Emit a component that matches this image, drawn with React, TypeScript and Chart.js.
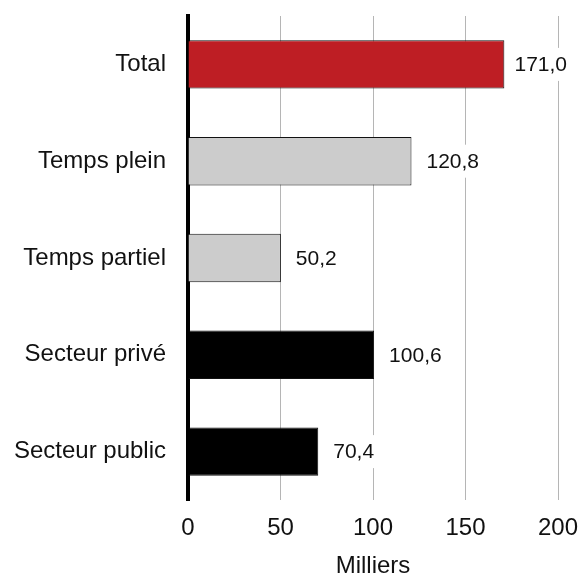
import React, { useEffect, useRef } from "react";
import { Chart, registerables } from "chart.js";

Chart.register(...registerables);

// Employment categories and their values (thousands)
const categories = ["Total", "Temps plein", "Temps partiel", "Secteur privé", "Secteur public"];
const values = [171.0, 120.8, 50.2, 100.6, 70.4];
const barColors = ["#be1e24", "#cccccc", "#cccccc", "#000000", "#000000"];
const axisTitle = "Milliers";
const axisMin = 0;
const axisMax = 200;
const axisStep = 50;

const FONT = "'Liberation Sans', Arial, sans-serif";

const formatValue = (v: number) => v.toFixed(1).replace(".", ",");

// Writes each bar's value just past its end, on a white box that hides the grid lines
const valueLabels = {
  id: "valueLabels",
  afterDatasetsDraw(chart: any) {
    const { ctx, width } = chart;
    const meta = chart.getDatasetMeta(0);
    ctx.save();
    ctx.font = `21px ${FONT}`;
    ctx.textBaseline = "middle";
    ctx.textAlign = "left";
    meta.data.forEach((bar: any, i: number) => {
      const text = formatValue(values[i]);
      const w = ctx.measureText(text).width;
      const x = Math.min(bar.x + 15, width - 12 - w);
      const y = bar.y;
      ctx.fillStyle = "#ffffff";
      ctx.fillRect(x - 4, y - 16.5, w + 8, 33);
      ctx.fillStyle = "#111111";
      ctx.fillText(text, x, y + 1);
    });
    ctx.restore();
  },
};

export default function App() {
  const canvasRef = useRef<HTMLCanvasElement | null>(null);

  useEffect(() => {
    document.body.style.margin = "0";
    const canvas = canvasRef.current;
    if (!canvas) return;
    const chart = new Chart(canvas, {
      type: "bar",
      data: {
        labels: categories,
        datasets: [
          {
            data: values,
            backgroundColor: barColors,
            borderColor: "#111111",
            borderWidth: 1,
            borderSkipped: "left",
            barPercentage: 0.5,
            categoryPercentage: 1.0,
          },
        ],
      },
      options: {
        indexAxis: "y",
        animation: false,
        responsive: false,
        maintainAspectRatio: false,
        layout: { padding: { top: 16, right: 21, bottom: 0, left: 0 } },
        plugins: {
          legend: { display: false },
          tooltip: { enabled: false },
        },
        scales: {
          x: {
            type: "linear",
            min: axisMin,
            max: axisMax,
            ticks: {
              stepSize: axisStep,
              padding: 14,
              color: "#111111",
              font: { family: FONT, size: 24 },
            },
            grid: {
              color: "#b5b5b5",
              lineWidth: 1,
              drawTicks: false,
            },
            border: { display: false },
            title: {
              display: true,
              text: axisTitle,
              color: "#111111",
              font: { family: FONT, size: 24, lineHeight: 1 },
              padding: { top: 0, bottom: -3 },
            },
            afterFit(scale: any) {
              scale.height = 75;
              scale.paddingLeft = 0;
              scale.paddingRight = 0;
            },
          },
          y: {
            type: "category",
            z: 1,
            ticks: {
              padding: 22,
              color: "#111111",
              font: { family: FONT, size: 24 },
            },
            grid: { display: false, drawTicks: false },
            border: { display: true, color: "#000000", width: 4 },
            afterFit(scale: any) {
              scale.width = 188;
              scale.paddingTop = 0;
              scale.paddingBottom = 0;
            },
          },
        },
      },
      plugins: [valueLabels],
    });
    return () => chart.destroy();
  }, []);

  return (
    <div style={{ width: 579, height: 575 }}>
      <canvas ref={canvasRef} width={579} height={575} style={{ display: "block" }} />
    </div>
  );
}
